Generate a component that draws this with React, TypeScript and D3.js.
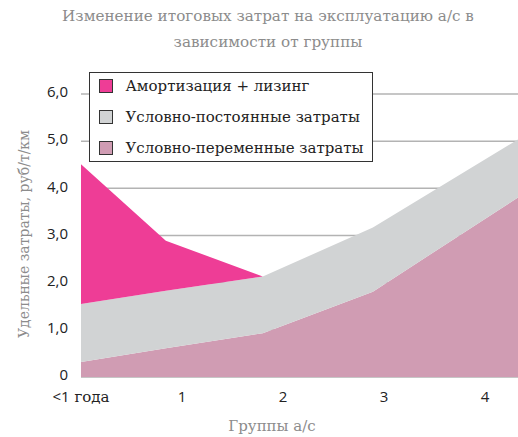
import React from "react";
import * as d3 from "d3";

// positions of the data points along the group axis (0 = "<1 года")
const groupPos = [0, 0.84, 1.8, 2.89, 4.33];
const variableCosts = [0.32, 0.61, 0.93, 1.81, 3.81];
const fixedCosts = [1.23, 1.22, 1.2, 1.36, 1.23];
const amortization = [2.96, 1.06, 0, 0, 0];

const xTickValues = [0, 1, 2, 3, 4];
const xTickLabels = ["<1", "1", "2", "3", "4"];
const yTickValues = [0, 1, 2, 3, 4, 5, 6];
const yTickLabels = ["0", "1,0", "2,0", "3,0", "4,0", "5,0", "6,0"];

const seriesKeys = ["variable", "fixed", "amort"];
const seriesNames = ["Амортизация + лизинг", "Условно-постоянные затраты", "Условно-переменные затраты"];
const legendKeys = ["amort", "fixed", "variable"];
const colors = { amort: "#ee3d96", fixed: "#d1d3d4", variable: "#d09cb3" };

const W = 518;
const H = 437;
const SERIF = "'DejaVu Serif', serif";
const SANS = "'Open Sans', sans-serif";

export default function App() {
  const x = d3.scaleLinear().domain([0, 4]).range([81, 485]);
  const y = d3.scaleLinear().domain([0, 6]).range([377, 94]);

  const rows = groupPos.map((g, i) => ({
    g,
    variable: variableCosts[i],
    fixed: fixedCosts[i],
    amort: amortization[i],
  }));
  const stacked = d3.stack().keys(seriesKeys)(rows);
  const area = d3
    .area()
    .x((d) => x(d.data.g))
    .y0((d) => y(d[0]))
    .y1((d) => y(d[1]));

  return (
    <svg width={W} height={H} style={{ position: "absolute", left: 0, top: 0, background: "#fff" }}>
      <text x={268} y={21} textAnchor="middle" fontFamily={SERIF} fontSize={15.2} fill="#8c8c8c">
        Изменение итоговых затрат на эксплуатацию а/с в
      </text>
      <text x={268} y={47} textAnchor="middle" fontFamily={SERIF} fontSize={15.2} fill="#8c8c8c">
        зависимости от группы
      </text>

      {yTickValues.map((v) => (
        <line key={v} x1={x(0)} x2={W} y1={y(v)} y2={y(v)} stroke="#b3b3b3" strokeWidth={1.5} />
      ))}

      {stacked.map((s) => (
        <path key={s.key} d={area(s)} fill={colors[s.key]} />
      ))}

      {yTickValues.map((v, i) => (
        <text key={v} x={68} y={y(v) - 2} dy="0.35em" textAnchor="end" fontFamily={SANS} fontSize={15} fill="#222">
          {yTickLabels[i]}
        </text>
      ))}

      {xTickValues.map((v, i) => (
        <text key={v} x={x(v)} y={402} textAnchor="middle" fontFamily={SANS} fontSize={15} fill="#222">
          {xTickLabels[i]}
          {i === 0 && <tspan fontFamily={SERIF}> года</tspan>}
        </text>
      ))}

      <text x={272} y={431} textAnchor="middle" fontFamily={SERIF} fontSize={15} fill="#8c8c8c">
        Группы а/с
      </text>
      <text
        transform={`translate(29,234) rotate(-90)`}
        textAnchor="middle"
        fontFamily={SERIF}
        fontSize={14}
        fill="#8c8c8c"
      >
        Удельные затраты, руб/т/км
      </text>

      <g>
        <rect x={89.5} y={72.5} width={283} height={89} fill="#fff" stroke="#333" strokeWidth={1} />
        {legendKeys.map((k, i) => (
          <g key={k} transform={`translate(99.5,${86 + i * 31})`}>
            <rect x={0} y={-6.5} width={13} height={13} fill={colors[k]} stroke="#333" strokeWidth={1} />
            <text x={26} y={0} dy="0.35em" fontFamily={SERIF} fontSize={15} fill="#222">
              {seriesNames[i]}
            </text>
          </g>
        ))}
      </g>
    </svg>
  );
}
